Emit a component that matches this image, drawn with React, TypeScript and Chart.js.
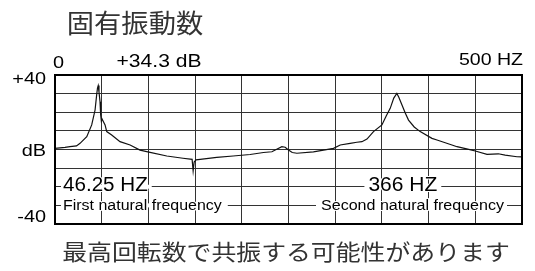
import React, { useEffect, useRef } from "react";
import { Chart, registerables } from "chart.js";

Chart.register(...registerables);

// ---- data ----
const freqHz = [
  0, 10.7, 16, 23, 26.8, 34, 39.3, 42.9, 44.6, 45.5, 46.25, 47.1, 48.2, 48.9, 49.6, 50.4, 52, 53.6,
  55.4, 60.7, 69.6, 80.4, 91, 101.8, 119.7, 137, 146.8, 147.9, 149, 151, 155.4, 173.2, 190.7,
  208.9, 223.2, 232.2, 237.9, 242.9, 246.4, 250, 254, 259, 276.7, 298.2, 305.4, 316, 323.2,
  328.6, 334, 341, 350, 354.6, 358.9, 362.7, 366, 368, 371.5, 375, 378.5, 384.6, 391, 403.6,
  409, 425, 430.4, 446.4, 450, 462.5, 474.6, 482, 494.6, 500,
];
const levelDb = [
  0.6, 1.1, 1.5, 1.9, 3.3, 6.9, 13.2, 21.2, 29.3, 33, 34.3, 30.9, 25.7, 18.5, 15.3, 16.4, 14.8, 13.2,
  9.6, 7.8, 4.2, 2.4, -0.3, -1.5, -3.5, -4.7, -5.3, -11.5, -6.7, -5.6, -5.3, -4.2, -3.5,
  -2.7, -1.6, -1.2, 0.3, 1.5, 1.2, -0.3, -1.6, -2, -1.3, 0.6, 2.4, 3.3, 3.9,
  4.2, 5.6, 9.6, 13.2, 18, 22.1, 27.6, 30.1, 28.2, 23.9, 19.6, 15.8, 12.1, 9.6, 6,
  5.1, 2.4, 1.5, -0.3, -0.8, -2.6, -2.3, -3, -3.9, -4,
];

const xMin = 0;
const xMax = 500;
const xStep = 50;
const yMin = -40;
const yMax = 40;
const yStep = 10;

const titleText = "固有振動数";
const footerText = "最高回転数で共振する可能性があります";
const yAxisLabels = ["+40", "dB", "-40"];
const topLabels = ["0", "+34.3 dB", "500 HZ"];
const peakFreqLabels = ["46.25 HZ", "366 HZ"];
const peakNameLabels = ["First natural frequency", "Second natural frequency"];

const SANS = '"Liberation Sans", Arial, sans-serif';
const CJK = '"Noto Sans CJK JP", sans-serif';

function drawText(
  ctx: CanvasRenderingContext2D,
  text: string,
  x: number,
  y: number,
  size: number,
  family: string,
  color: string,
  align: CanvasTextAlign,
  sx: number,
  halo: number = 0
) {
  ctx.save();
  ctx.translate(x, y);
  ctx.scale(sx, 1);
  ctx.font = `${size}px ${family}`;
  ctx.textAlign = align;
  ctx.textBaseline = "middle";
  if (halo > 0) {
    ctx.strokeStyle = "#fff";
    ctx.lineWidth = halo;
    ctx.lineJoin = "round";
    ctx.strokeText(text, 0, 0);
  }
  ctx.fillStyle = color;
  ctx.fillText(text, 0, 0);
  ctx.restore();
}

function labelBand(
  ctx: CanvasRenderingContext2D,
  text: string,
  x: number,
  y: number,
  size: number,
  sx: number,
  align: CanvasTextAlign,
  padL: number,
  padR: number
) {
  ctx.save();
  ctx.font = `${size}px ${SANS}`;
  const w = ctx.measureText(text).width * sx;
  let left = x;
  if (align === "center") left = x - w / 2;
  if (align === "right") left = x - w;
  ctx.fillStyle = "#fff";
  ctx.fillRect(left - padL, y - 2, w + padL + padR, 4);
  ctx.restore();
}

const overlayPlugin = {
  id: "overlay",
  afterDatasetsDraw(chart: any) {
    const { ctx, chartArea, scales } = chart;
    const xs = scales.x;
    const ys = scales.y;
    const L = chartArea.left;
    const R = chartArea.right;
    const T = chartArea.top;
    const B = chartArea.bottom;

    // frame
    ctx.save();
    ctx.strokeStyle = "#000";
    ctx.lineWidth = 2;
    ctx.strokeRect(L, T, R - L, B - T);
    ctx.restore();

    // peak labels in lower region
    const yHz = ys.getPixelForValue(-20);
    const yName = ys.getPixelForValue(-30);
    labelBand(ctx, peakFreqLabels[0], L + 8, yHz, 20, 1.03, "left", 2, 4);
    labelBand(ctx, peakFreqLabels[1], xs.getPixelForValue(366) + 6, yHz, 20, 1.05, "center", 4, 4);
    labelBand(ctx, peakNameLabels[0], L + 8, yName, 14, 1.14, "left", 2, 6);
    labelBand(ctx, peakNameLabels[1], R - 18, yName, 14, 1.147, "right", 5, 3);

    drawText(ctx, peakFreqLabels[0], L + 8, yHz - 1, 20, SANS, "#000", "left", 1.03, 2);
    drawText(ctx, peakFreqLabels[1], xs.getPixelForValue(366) + 6, yHz - 1, 20, SANS, "#000", "center", 1.05, 2);
    drawText(ctx, peakNameLabels[0], L + 8, yName + 1, 14, SANS, "#000", "left", 1.14, 2);
    drawText(ctx, peakNameLabels[1], R - 18, yName + 1, 14, SANS, "#000", "right", 1.147, 2);

    // y axis labels
    drawText(ctx, yAxisLabels[0], L - 9, ys.getPixelForValue(40) + 4, 17, SANS, "#000", "right", 1.17);
    drawText(ctx, yAxisLabels[1], L - 9, ys.getPixelForValue(0) + 2, 17, SANS, "#000", "right", 1.17);
    drawText(ctx, yAxisLabels[2], L - 9, ys.getPixelForValue(-40) - 7, 17, SANS, "#000", "right", 1.17);

    // top labels
    drawText(ctx, topLabels[0], xs.getPixelForValue(0) - 2, T - 12, 17, SANS, "#000", "left", 1.17);
    drawText(ctx, topLabels[1], L + 104, T - 13, 18, SANS, "#000", "center", 1.17);
    drawText(ctx, topLabels[2], xs.getPixelForValue(500) + 1, T - 15, 17, SANS, "#000", "right", 1.15);

    // title & footer
    drawText(ctx, titleText, 135, 23, 26, CJK, "#333", "center", 1.05);
    drawText(ctx, footerText, 286, 252, 22, CJK, "#333", "center", 1.13);
  },
};

export default function App() {
  const ref = useRef<HTMLCanvasElement | null>(null);

  useEffect(() => {
    if (!ref.current) return;
    const points = freqHz.map((f, i) => ({ x: f, y: levelDb[i] }));
    const chart = new Chart(ref.current, {
      type: "line",
      data: {
        datasets: [
          {
            data: points,
            borderColor: "#111",
            borderWidth: 1.2,
            pointRadius: 0,
            tension: 0,
            fill: false,
          },
        ],
      },
      options: {
        animation: false,
        responsive: true,
        maintainAspectRatio: false,
        layout: { padding: { left: 55, right: 13, top: 75, bottom: 47 } },
        plugins: {
          legend: { display: false },
          tooltip: { enabled: false },
          title: { display: false },
        },
        scales: {
          x: {
            type: "linear",
            min: xMin,
            max: xMax,
            ticks: { stepSize: xStep, display: false },
            grid: { color: "#333", lineWidth: 1, drawTicks: false },
            border: { display: false },
          },
          y: {
            type: "linear",
            min: yMin,
            max: yMax,
            ticks: { stepSize: yStep, display: false },
            grid: { color: "#333", lineWidth: 1, drawTicks: false },
            border: { display: false },
          },
        },
      },
      plugins: [overlayPlugin],
    });
    return () => chart.destroy();
  }, []);

  return (
    <div style={{ position: "fixed", left: 0, top: 0, width: 535, height: 271, background: "#fff" }}>
      <canvas ref={ref} />
    </div>
  );
}
